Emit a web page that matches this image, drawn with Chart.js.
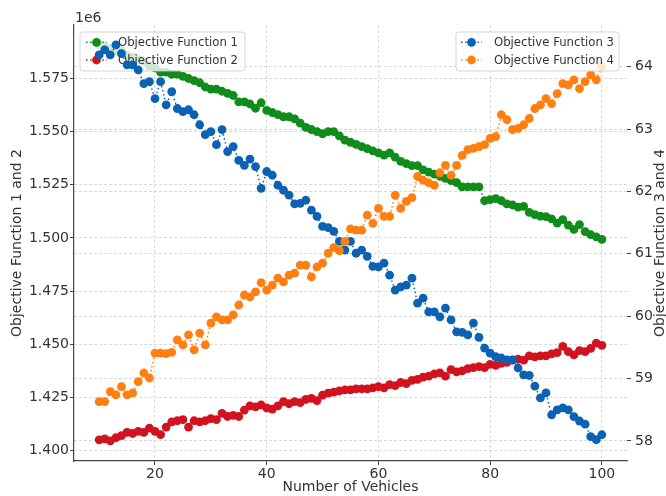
<!DOCTYPE html>
<html><head><meta charset="utf-8">
<script src="https://cdn.jsdelivr.net/npm/chart.js@4.4.1/dist/chart.umd.min.js"></script>
<style>html,body{margin:0;padding:0;background:#fff}#wrap{width:666px;height:496px}</style>
</head><body><div id="wrap"><canvas id="c" width="666" height="496"></canvas></div>
<script>
const vehicles = [10,11,12,13,14,15,16,17,18,19,20,21,22,23,24,25,26,27,28,29,30,31,32,33,34,35,36,37,38,39,40,41,42,43,44,45,46,47,48,49,50,51,52,53,54,55,56,57,58,59,60,61,62,63,64,65,66,67,68,69,70,71,72,73,74,75,76,77,78,79,80,81,82,83,84,85,86,87,88,89,90,91,92,93,94,95,96,97,98,99,100];

const objective1 = [1591000,1590000,1589000,1588000,1588000,1586000,1585000,1584000,1583000,1581000,
 1580000,1578000,1578000,1577000,1577000,1576000,1575000,1574000,1573000,1571000,
 1570000,1570000,1569000,1568000,1567000,1564000,1564000,1563000,1561000,1563600,
 1560000,1559000,1558000,1557000,1557000,1556000,1554000,1552000,1551000,1550000,
 1549000,1550000,1550000,1548000,1546000,1545000,1544000,1543000,1542000,1541000,
 1540000,1539000,1540000,1538000,1536000,1535000,1534000,1534000,1532000,1531000,
 1530000,1529000,1528000,1527000,1526000,1524000,1524000,1524000,1524000,1517500,
 1518000,1518500,1517500,1516000,1515500,1514500,1514800,1512000,1511000,1510200,
 1510000,1509000,1507000,1508600,1506000,1504000,1506300,1503000,1501600,1500500,
 1499300];

const objective2 = [1405000,1405500,1404500,1406000,1407000,1408500,1408000,1409000,1408500,1410500,
 1409000,1407500,1411000,1413500,1414000,1414500,1411000,1414000,1413500,1414000,
 1415000,1414500,1417500,1416000,1416500,1416000,1419000,1421000,1420500,1421500,
 1420000,1419500,1421000,1423000,1422000,1423000,1422500,1424000,1424500,1423500,
 1426000,1427000,1427500,1428000,1428500,1428500,1429000,1429000,1429000,1429500,
 1430000,1429500,1431000,1430500,1432000,1431500,1433000,1433500,1434500,1435000,
 1436000,1436500,1435000,1438000,1437000,1437500,1438500,1439000,1439500,1439000,
 1440500,1440000,1441000,1441500,1442500,1443000,1442500,1444500,1444000,1444500,
 1444500,1445500,1446000,1449000,1446500,1445000,1447000,1446500,1448000,1450500,
 1449500];

const objective3 = [64.19,64.27,64.19,64.35,64.21,64.03,64.03,63.95,63.73,63.76,
 63.49,63.76,63.39,63.60,63.33,63.28,63.31,63.23,63.07,62.91,
 62.96,62.75,62.99,62.64,62.72,62.50,62.42,62.52,62.40,62.05,
 62.32,62.26,62.10,62.02,61.94,61.80,61.81,61.86,61.70,61.60,
 61.44,61.42,61.36,61.20,61.06,61.20,61.01,61.06,60.96,60.80,
 60.79,60.85,60.66,60.42,60.47,60.50,60.61,60.21,60.29,60.07,
 60.07,59.99,60.13,59.94,59.75,59.74,59.70,59.89,59.66,59.49,
 59.41,59.35,59.33,59.30,59.30,59.17,59.06,59.05,58.88,58.69,
 58.77,58.42,58.50,58.53,58.50,58.39,58.32,58.27,58.07,58.02,
 58.10];

const objective4 = [58.63,58.63,58.79,58.74,58.87,58.74,58.77,58.95,59.09,59.01,
 59.41,59.41,59.40,59.42,59.62,59.54,59.70,59.46,59.73,59.54,
 59.89,59.99,59.94,59.94,60.02,60.18,60.34,60.31,60.39,60.54,
 60.42,60.50,60.61,60.55,60.66,60.69,60.82,60.82,60.63,60.79,
 60.85,61.01,61.10,61.05,61.20,61.40,61.38,61.38,61.62,61.49,
 61.73,61.60,61.60,61.94,61.73,61.84,61.90,62.24,62.18,62.14,
 62.10,62.30,62.42,62.26,62.42,62.58,62.67,62.69,62.72,62.75,
 62.85,62.88,63.23,63.15,62.99,63.01,63.07,63.17,63.33,63.39,
 63.49,63.41,63.57,63.73,63.71,63.79,63.65,63.76,63.87,63.79,
 64.00];

const seriesLabels = ['Objective Function 1','Objective Function 2','Objective Function 3','Objective Function 4'];
const xTicks = [20,40,60,80,100];
const leftTicks = [1400000,1425000,1450000,1475000,1500000,1525000,1550000,1575000];
const rightTicks = [58,59,60,61,62,63,64];

const COLORS = ['#108c1a','#d2131f','#0b62b2','#ff8010'];
const FONT = '"DejaVu Sans", sans-serif';
const TXT = '#333333';
const GRID = '#d0d0d0';

function pts(ys){ return vehicles.map((v,i)=>({x:v,y:ys[i]})); }
function mk(i, ys, axis, order){
  return {label: seriesLabels[i], data: pts(ys), yAxisID: axis, order: order,
    borderColor: COLORS[i], backgroundColor: COLORS[i], borderWidth: 1.5, borderDash: [1.5,2.6],
    pointRadius: 4.4, pointBorderWidth: 0, pointBackgroundColor: COLORS[i], pointHoverRadius: 4.4,
    tension: 0, fill: false};
}

function drawLegend(ctx, box, idx, chart){
  ctx.save();
  const r = 3;
  ctx.beginPath();
  ctx.moveTo(box.x+r, box.y);
  ctx.arcTo(box.x+box.w, box.y, box.x+box.w, box.y+box.h, r);
  ctx.arcTo(box.x+box.w, box.y+box.h, box.x, box.y+box.h, r);
  ctx.arcTo(box.x, box.y+box.h, box.x, box.y, r);
  ctx.arcTo(box.x, box.y, box.x+box.w, box.y, r);
  ctx.closePath();
  ctx.fillStyle = 'rgba(255,255,255,0.8)';
  ctx.fill();
  ctx.strokeStyle = 'rgba(204,204,204,0.85)';
  ctx.lineWidth = 1;
  ctx.stroke();
  idx.forEach((di, k) => {
    const ds = chart.data.datasets[di];
    const cy = box.y + 10.3 + k*17.7;
    ctx.setLineDash([1.5,2.6]);
    ctx.strokeStyle = ds.borderColor; ctx.lineWidth = 1.5;
    ctx.beginPath(); ctx.moveTo(box.sx, cy); ctx.lineTo(box.sx+21, cy); ctx.stroke();
    ctx.setLineDash([]);
    ctx.fillStyle = ds.borderColor;
    ctx.beginPath(); ctx.arc(box.sx+10.5, cy, 4.4, 0, Math.PI*2); ctx.fill();
    ctx.fillStyle = TXT; ctx.font = '11.7px ' + FONT;
    ctx.textAlign = 'left'; ctx.textBaseline = 'middle';
    ctx.fillText(ds.label, box.tx, cy+0.5);
  });
  ctx.restore();
}

const overlay = {
  id: 'overlay',
  beforeDatasetDraw(chart, args){
    if (args.index === 2) {
      drawLegend(chart.ctx, {x:80, y:32, w:165, h:39, sx:86, tx:118}, [0,1], chart);
    }
  },
  afterDatasetsDraw(chart){
    drawLegend(chart.ctx, {x:456, y:32, w:163, h:39, sx:461, tx:494}, [2,3], chart);
  },
  afterDraw(chart){
    const ctx = chart.ctx; const a = chart.chartArea;
    ctx.save();
    ctx.fillStyle = TXT; ctx.font = '14px ' + FONT;
    ctx.textAlign = 'left'; ctx.textBaseline = 'alphabetic';
    ctx.fillText('1e6', a.left + 1, 21.5);
    ctx.translate(660, (a.top + a.bottom)/2);
    ctx.rotate(-Math.PI/2);
    ctx.textAlign = 'center'; ctx.textBaseline = 'middle';
    ctx.fillText('Objective Function 3 and 4', 0, 0);
    ctx.restore();
  }
};

const tickFont = {family: FONT, size: 14};
new Chart(document.getElementById('c'), {
  type: 'line',
  data: {datasets: [
    mk(0, objective1, 'yL', 4),
    mk(1, objective2, 'yL', 3),
    mk(2, objective3, 'yR', 2),
    mk(3, objective4, 'yR', 1)
  ]},
  options: {
    responsive: false, animation: false, devicePixelRatio: 1,
    layout: {padding: {top: 25, left: 0, right: 0, bottom: 0}},
    plugins: {legend: {display: false}, tooltip: {enabled: false}},
    scales: {
      x: {type: 'linear', position: 'bottom', min: 5.5, max: 104.5,
        afterBuildTicks: s => { s.ticks = xTicks.map(v => ({value: v})); },
        afterFit: s => { s.height = 35; },
        grid: {color: GRID, lineWidth: 0.8, tickLength: 4, tickColor: '#444', tickWidth: 1},
        border: {display: true, color: '#444', width: 1.2, dash: [3,2]},
        ticks: {font: tickFont, color: TXT, padding: 1, maxRotation: 0, autoSkip: false},
        title: {display: true, text: 'Number of Vehicles', font: tickFont, color: TXT, padding: {top: 0, bottom: 0}}
      },
      yL: {type: 'linear', position: 'left', min: 1395060, max: 1600170,
        afterBuildTicks: s => { s.ticks = leftTicks.map(v => ({value: v})); },
        afterFit: s => { s.width = 74; },
        grid: {color: GRID, lineWidth: 0.8, tickLength: 4, tickColor: '#444', tickWidth: 1},
        border: {display: true, color: '#444', width: 1.2, dash: [3,2]},
        ticks: {font: tickFont, color: TXT, padding: 1, autoSkip: false,
          callback: v => (v/1e6).toFixed(3)},
        title: {display: true, text: 'Objective Function 1 and 2', font: tickFont, color: TXT, padding: {top: 8.6, bottom: 0}}
      },
      yR: {type: 'linear', position: 'right', min: 57.679, max: 64.669,
        afterBuildTicks: s => { s.ticks = rightTicks.map(v => ({value: v})); },
        afterFit: s => { s.width = 39; },
        grid: {color: GRID, lineWidth: 0.8, tickLength: 4, tickColor: '#444', tickWidth: 1},
        border: {display: false, dash: [3,2]},
        ticks: {font: tickFont, color: TXT, padding: 4, autoSkip: false, callback: v => String(v)}
      }
    }
  },
  plugins: [overlay]
});
</script>
</body></html>
